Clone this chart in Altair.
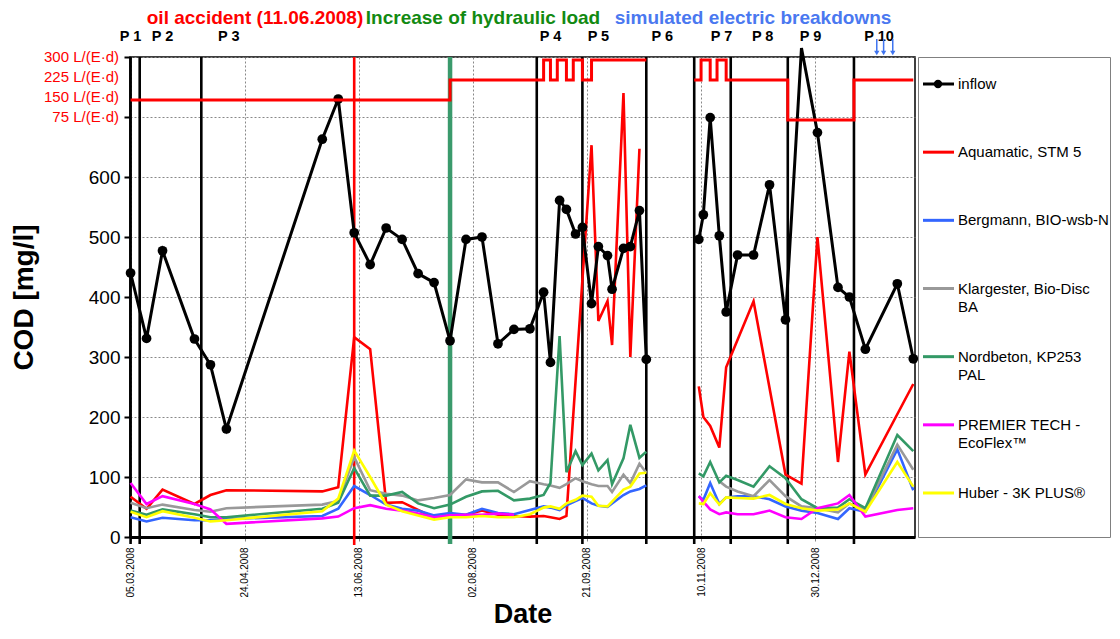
import altair as alt
import pandas as pd
import numpy as np

FONT = "Liberation Sans"

# ---------------- data ----------------
dates = [
    "2008-03-05", "2008-03-12", "2008-03-19", "2008-04-02", "2008-04-09", "2008-04-16", "2008-05-28", "2008-06-04", "2008-06-11", "2008-06-18",
    "2008-06-25", "2008-07-02", "2008-07-09", "2008-07-16", "2008-07-23", "2008-07-30", "2008-08-06", "2008-08-13", "2008-08-20", "2008-08-27",
    "2008-09-02", "2008-09-05", "2008-09-09", "2008-09-12", "2008-09-16", "2008-09-19", "2008-09-23", "2008-09-26", "2008-09-30", "2008-10-02",
    "2008-10-07", "2008-10-10", "2008-10-14", "2008-10-17", "2008-11-09", "2008-11-11", "2008-11-14", "2008-11-18", "2008-11-21", "2008-11-26",
    "2008-12-03", "2008-12-10", "2008-12-17", "2008-12-24", "2008-12-31", "2009-01-09", "2009-01-14", "2009-01-21", "2009-02-04", "2009-02-11",
]
inflow = [440, 331, 477, 330, 287, 180, 663, 730, 507, 454,
          515, 496, 439, 424, 327, 496, 500, 322, 346, 347,
          408, 291, 561, 546, 505, 516, 389, 484, 469, 413,
          481, 484, 544, 296, 496, 537, 699, 502, 375, 470,
          470, 587, 362, 815, 674, 416, 400, 313, 422, 297]
aquamatic = [67, 47, 79, 55, 70, 78, 76, 83, 333, 313,
             57, 58, 45, 32, 36, 37, 44, 37, 35, 34,
             35, 33, 30, 35, None, None, 653, 360, 393, 320,
             740, 300, 647, None, 251, 200, 185, 149, 283, None,
             393, None, 104, 89, 500, 125, 309, 104, None, 255]
bergmann = [33, 26, 32, 28, 28, 30, 35, 47, 85, 70,
            54, 47, 44, 36, 40, 37, 47, 40, 38, 45,
            51, 49, 45, 53, 60, 65, 56, 52, 50, 56,
            70, 76, 80, 86, 68, 62, 90, 55, 66, 68,
            68, 63, 51, 44, 40, 30, 48, 42, 146, 78]
klargester = [57, 48, 54, 45, 42, 48, 54, 60, 133, 78,
              72, 69, 61, 65, 70, 96, 91, 91, 75, 93,
              88, 86, 82, 88, 98, 93, 88, 85, 85, 75,
              104, 90, 122, 107, None, None, None, 93, 84, 76,
              68, 95, 68, 51, 48, 41, 56, 45, 154, 112]
nordbeton = [44, 37, 46, 38, 33, 33, 47, 57, 115, 69,
             69, 75, 56, 48, 54, 67, 76, 77, 61, 64,
             70, 90, 335, 108, 143, 120, 139, 111, 128, 88,
             131, 187, 132, 142, 106, 101, 125, 91, 102, 95,
             84, 118, 98, 63, 48, 49, 63, 48, 170, 143]
premier_tech = [90, 55, 68, 55, 46, 22, 31, 34, 48, 53,
                47, 44, 39, 33, 36, 37, 37, 39, 37, None,
                None, None, None, None, None, None, None, None, None, None,
                None, None, None, None, 68, 59, 46, 38, 41, 38,
                38, 44, 33, 30, 48, 56, 70, 34, 45, 48]
huber = [42, 33, 43, 32, 26, 28, 43, 64, 144, 100,
         54, 43, 36, 29, 33, 33, 35, 33, 33, 38,
         49, 51, 47, 56, 62, 69, 67, 52, 51, 59,
         79, 84, 106, 107, 56, 55, 73, 54, 66, 65,
         64, 70, 55, 48, 44, 46, 56, 42, 125, 84]

series_names = ["inflow", "Aquamatic, STM 5", "Bergmann, BIO-wsb-N", "Klargester, Bio-Disc\nBA",
                "Nordbeton, KP253\nPAL", "PREMIER TECH -\nEcoFlex™", "Huber - 3K PLUS®"]
series_colors = ["#000000", "#ff0000", "#3366ff", "#999999", "#339966", "#ff00ff", "#ffff00"]
series_values = [inflow, aquamatic, bergmann, klargester, nordbeton, premier_tech, huber]

# hydraulic load (L/(E·d)), step function
hyd_dates = ["2008-03-05", "2008-07-23", "2008-09-02", "2008-09-05", "2008-09-08", "2008-09-12", "2008-09-15",
             "2008-09-19", "2008-09-23", "2008-10-17",
             "2008-11-07", "2008-11-10", "2008-11-14", "2008-11-17", "2008-11-21", "2008-12-18", "2009-01-16", "2009-02-11"]
hyd_load = [150, 225, 300, 225, 300, 225, 300, 225, 300, 300,
            225, 300, 225, 300, 225, 75, 225, 225]
hyd_levels = [75, 150, 225, 300]

phase_names = ["P 1", "P 2", "P 3", "P 4", "P 5", "P 6", "P 7", "P 8", "P 9", "P 10"]
phase_dates = ["2008-03-05", "2008-03-09", "2008-04-05", "2008-08-30", "2008-09-19", "2008-10-17",
               "2008-11-07", "2008-11-23", "2008-12-18", "2009-01-16"]
phase_label_dates = ["2008-03-05", "2008-03-19", "2008-04-17", "2008-09-05", "2008-09-26", "2008-10-24",
                     "2008-11-19", "2008-12-07", "2008-12-28", "2009-01-27"]

oil_dates = ["2008-06-11"]
load_dates = ["2008-07-23"]
breakdown_dates = ["2009-01-26", "2009-01-29", "2009-02-02"]

x_tick_dates = ["2008-03-05", "2008-04-24", "2008-06-13", "2008-08-02", "2008-09-21", "2008-11-10", "2008-12-30"]
y_ticks = [0, 100, 200, 300, 400, 500, 600, 700, 800]

annotation_texts = ["oil accident (11.06.2008)", "Increase of hydraulic load", "simulated electric breakdowns"]
annotation_colors = ["#ff0000", "#128a12", "#4a78f0"]

GAP = "2008-10-30"  # no measurements between P6 and P7


def dt(s, hours=0):
    y, m, d = (int(v) for v in s.split("-"))
    return alt.DateTime(year=y, month=m, date=d, hours=hours, utc=True)


# ---------------- tables ----------------
wide = pd.DataFrame({"date": dates})
for n, v in zip(series_names, series_values):
    wide[n] = v
long = wide.melt(id_vars="date", var_name="series", value_name="cod").dropna()
long["segment"] = np.where(long["date"] < GAP, "a", "b")

hyd_df = pd.DataFrame({"date": hyd_dates, "load": hyd_load})
hyd_df["segment"] = np.where(hyd_df["date"] < GAP, "a", "b")
hyd_lab_df = pd.DataFrame({"load": hyd_levels, "label": [f"{v} L/(E·d)" for v in hyd_levels]})

phase_df = pd.DataFrame({"date": phase_dates, "name": phase_names})
phase_lab_df = pd.DataFrame({"date": phase_label_dates, "name": phase_names})

W, H = 785, 480

x_scale = alt.Scale(type="utc", domain=[dt("2008-03-04", 18), dt("2009-02-11", 18)])
x_axis = alt.Axis(
    values=[dt(d) for d in x_tick_dates], labelExpr="utcFormat(datum.value, '%d.%m.%Y')",
    labelAngle=270, labelFontSize=10, labelFont=FONT, labelColor="black",
    labelOverlap=False, labelFlush=False, labelPadding=6,
    tickSize=4, tickColor="#888888", tickWidth=1,
    domainColor="black", domainWidth=3,
    grid=True, gridColor="#888888", gridDash=[2, 2], gridWidth=1,
    title="Date", titleFont=FONT, titleFontSize=27, titleFontWeight="bold",
    titleColor="black", titlePadding=4)
X = alt.X("date:T", scale=x_scale, axis=x_axis)

y_axis = alt.Axis(
    values=y_ticks, labelExpr="datum.value <= 600 ? datum.label : ''",
    labelFontSize=19, labelFont=FONT, labelColor="black", labelPadding=4,
    tickSize=6, tickColor="black", tickWidth=2,
    domainColor="black", domainWidth=2,
    grid=True, gridColor="#888888", gridDash=[2, 2], gridWidth=1,
    title="COD [mg/l]", titleFont=FONT, titleFontSize=28, titleFontWeight="bold",
    titleColor="black", titlePadding=50)
Y = alt.Y("cod:Q", scale=alt.Scale(domain=[0, 800], nice=False, zero=True), axis=y_axis)

HY = alt.Y("load:Q", scale=alt.Scale(domain=[-1488.75, 311.25], nice=False, zero=False), axis=None)

color = alt.Color("series:N", scale=alt.Scale(domain=series_names, range=series_colors), legend=None)

# ---------------- main chart layers ----------------
phase_rules = alt.Chart(phase_df).mark_rule(color="black", strokeWidth=2.6).encode(
    x=X, y=alt.value(0), y2=alt.value(H + 7))
oil_rule = alt.Chart(pd.DataFrame({"date": oil_dates})).mark_rule(color="#ff0000", strokeWidth=2.6).encode(
    x=X, y=alt.value(0), y2=alt.value(H + 8))
load_rule = alt.Chart(pd.DataFrame({"date": load_dates})).mark_rule(color="#3a9a6c", strokeWidth=4.5).encode(
    x=X, y=alt.value(0), y2=alt.value(H + 7))

colored = alt.Chart(long[long["series"] != "inflow"]).mark_line(strokeWidth=2.6).encode(
    x=X, y=Y, color=color, detail="segment:N")
inflow_line = alt.Chart(long[long["series"] == "inflow"]).mark_line(color="black", strokeWidth=3, clip=False).encode(
    x=X, y=Y, detail="segment:N")
inflow_pts = alt.Chart(long[(long["series"] == "inflow") & (long["cod"] <= 800)]).mark_circle(
    color="black", size=95, opacity=1).encode(x=X, y=Y)
cod_layer = alt.layer(colored, inflow_line, inflow_pts)

hyd_line = alt.Chart(hyd_df).mark_line(interpolate="step-after", color="#ff0000", strokeWidth=3).encode(
    x=X, y=HY, detail="segment:N")
hyd_text = alt.Chart(hyd_lab_df).mark_text(align="right", baseline="middle", color="#ff0000",
                                           fontSize=15, font=FONT, dy=-3).encode(
    x=alt.value(-11), y=HY, text="label:N")
hyd_layer = alt.layer(hyd_line, hyd_text)

phase_text = alt.Chart(phase_lab_df).mark_text(fontSize=14.5, fontWeight="bold", font=FONT, color="black",
                                               baseline="middle").encode(
    x=X, y=alt.value(-20), text="name:N")

arrow_df = pd.DataFrame({"date": breakdown_dates})
arrow_rule = alt.Chart(arrow_df).mark_rule(color="#3f74f0", strokeWidth=1.5).encode(
    x=X, y=alt.value(-18), y2=alt.value(-5))
arrow_head = alt.Chart(arrow_df).mark_point(shape="triangle-down", filled=True, size=28, color="#3f74f0",
                                            opacity=1).encode(x=X, y=alt.value(-4))

ann_x = [125, 353, 623]
ann_layers = []
for t, c, xv in zip(annotation_texts, annotation_colors, ann_x):
    ann_layers.append(
        alt.Chart(pd.DataFrame({"t": [t]})).mark_text(fontSize=19, fontWeight="bold", font=FONT, color=c,
                                                      baseline="middle", align="center").encode(
            x=alt.value(xv), y=alt.value(-39), text="t:N"))

main = alt.layer(
    phase_rules, oil_rule, load_rule, cod_layer, hyd_layer, phase_text, arrow_rule, arrow_head, *ann_layers
).resolve_scale(y="independent").properties(
    width=W, height=H, view=alt.ViewBackground(stroke="black", strokeWidth=1.5))

# ---------------- legend panel ----------------
leg_df = pd.DataFrame({"series": series_names})
LY = alt.Y("series:N", scale=alt.Scale(type="point", padding=0, domain=series_names, range=[27, 436]), axis=None)
leg_rules = alt.Chart(leg_df).mark_rule(strokeWidth=3).encode(
    x=alt.value(5), x2=alt.value(36), y=LY, color=color)
leg_pt = alt.Chart(leg_df[leg_df["series"] == "inflow"]).mark_circle(size=70, color="black", opacity=1).encode(
    x=alt.value(20), y=LY)
leg_txt = alt.Chart(leg_df).mark_text(align="left", baseline="top", dy=-7, fontSize=15, font=FONT,
                                      color="black", lineBreak="\n", lineHeight=18).encode(
    x=alt.value(40), y=LY, text="series:N")
legend = alt.layer(leg_rules, leg_pt, leg_txt).properties(
    width=192, height=H, view=alt.ViewBackground(stroke="#808080", strokeWidth=1))

chart = alt.hconcat(main, legend, spacing=3, bounds="flush").properties(
    padding={"left": 1, "top": 0, "right": 0, "bottom": 0},
    background="white",
)

chart.save("out.html", embed_options={"renderer": "svg", "actions": False})
